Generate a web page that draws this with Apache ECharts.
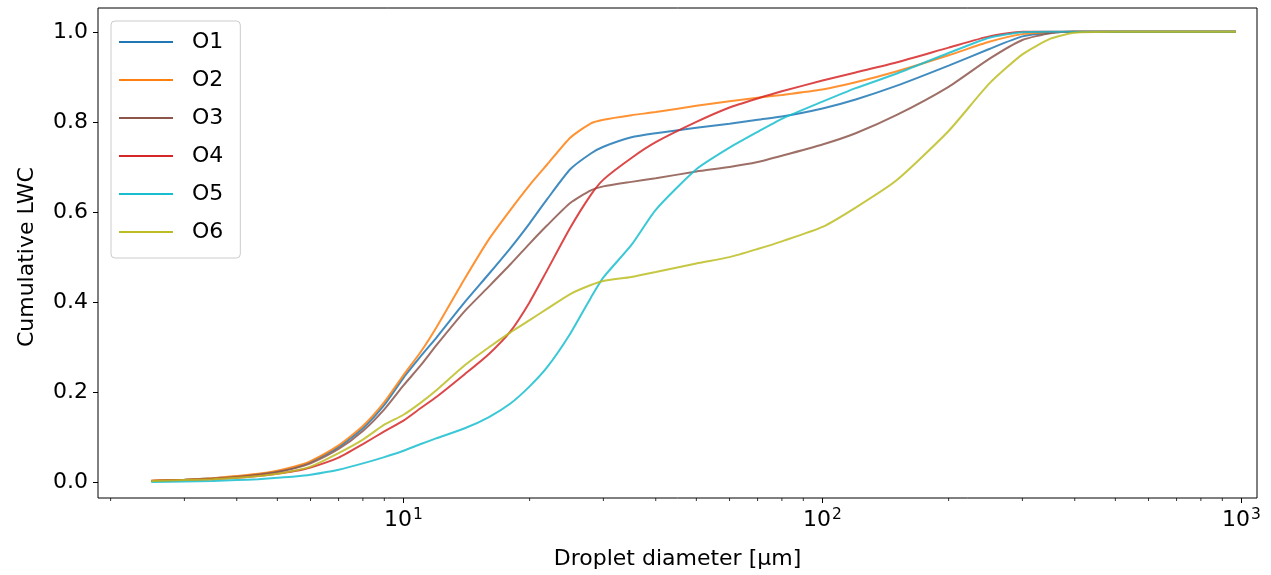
<!DOCTYPE html>
<html>
<head>
<meta charset="utf-8">
<script src="https://cdn.jsdelivr.net/npm/echarts@6/dist/echarts.min.js"></script>
<style>
  html, body { margin: 0; padding: 0; background: #fff; }
  #chart { width: 1271px; height: 575px; }
</style>
</head>
<body>
<div id="chart"></div>
<script>
// Droplet diameters [µm] shared by all cumulative curves
const diameters = [2.5, 3, 3.5, 4, 4.5, 5, 5.5, 6, 7, 8, 9, 10, 11, 12, 14, 16, 18, 20, 22, 25, 28, 30,
  35, 40, 50, 60, 70, 80, 100, 120, 150, 200, 250, 300, 350, 400, 500, 700, 970];

// Cumulative liquid water content per case
const O1 = [0.003, 0.006, 0.009, 0.013, 0.018, 0.024, 0.033, 0.045, 0.078, 0.12, 0.172, 0.232,
  0.28, 0.322, 0.40, 0.463, 0.52, 0.575, 0.628, 0.695, 0.73, 0.745, 0.766, 0.775,
  0.787, 0.796, 0.805, 0.812, 0.83, 0.85, 0.88, 0.925, 0.962, 0.99, 0.998, 1, 1, 1, 1];
const O2 = [0.004, 0.006, 0.009, 0.014, 0.019, 0.026, 0.035, 0.047, 0.082, 0.125, 0.178, 0.238,
  0.29, 0.345, 0.452, 0.54, 0.605, 0.66, 0.705, 0.765, 0.797, 0.805, 0.815, 0.822,
  0.836, 0.846, 0.854, 0.86, 0.872, 0.888, 0.912, 0.948, 0.978, 0.995, 0.999, 1, 1, 1, 1];
const O3 = [0.003, 0.005, 0.008, 0.012, 0.017, 0.023, 0.031, 0.042, 0.074, 0.114, 0.162, 0.215,
  0.26, 0.305, 0.38, 0.435, 0.484, 0.53, 0.57, 0.62, 0.648, 0.657, 0.667, 0.675,
  0.69, 0.7, 0.711, 0.725, 0.75, 0.775, 0.815, 0.878, 0.94, 0.982, 0.997, 1, 1, 1, 1];
const O4 = [0.003, 0.005, 0.007, 0.01, 0.014, 0.019, 0.025, 0.033, 0.055, 0.085, 0.113, 0.137,
  0.165, 0.19, 0.24, 0.285, 0.335, 0.4, 0.47, 0.565, 0.638, 0.672, 0.72, 0.755,
  0.8, 0.832, 0.852, 0.868, 0.892, 0.91, 0.932, 0.965, 0.99, 1, 1, 1, 1, 1, 1];
const O5 = [0.001, 0.002, 0.003, 0.005, 0.007, 0.01, 0.013, 0.017, 0.028, 0.042, 0.056, 0.07,
  0.085, 0.098, 0.12, 0.145, 0.175, 0.213, 0.255, 0.33, 0.41, 0.455, 0.527, 0.605,
  0.695, 0.743, 0.778, 0.807, 0.845, 0.875, 0.907, 0.953, 0.987, 0.999, 1, 1, 1, 1, 1];
const O6 = [0.003, 0.005, 0.007, 0.01, 0.014, 0.019, 0.026, 0.035, 0.065, 0.095, 0.128, 0.15,
  0.177, 0.205, 0.26, 0.30, 0.333, 0.36, 0.385, 0.418, 0.438, 0.447, 0.456, 0.467,
  0.486, 0.5, 0.518, 0.535, 0.567, 0.61, 0.67, 0.78, 0.885, 0.95, 0.985, 0.998, 1, 1, 1];

const seriesNames = ['O1', 'O2', 'O3', 'O4', 'O5', 'O6'];
const seriesValues = [O1, O2, O3, O4, O5, O6];
const colors = ['#1f77b4', '#ff7f0e', '#8c564b', '#d62728', '#17becf', '#bcbd22'];

// Tick labels of the LWC axis
const yTicks = [0.0, 0.2, 0.4, 0.6, 0.8, 1.0];

// Minor tick positions of the logarithmic diameter axis
const minorTicks = [];
[1, 10, 100].forEach(function (dec) {
  for (let k = 2; k <= 9; k++) minorTicks.push(k * dec);
});

const FONT = 'DejaVu Sans';
const X_MIN = 1.866, X_MAX = 1089;
// outer frame spans a padded range; the inner grid spans exactly 0..1
const FRAME_Y_MIN = -0.047, FRAME_Y_MAX = 1.053;
const FRAME_TOP = 8, FRAME_BOTTOM = 71.5;
const PLOT_H = 575 - FRAME_TOP - FRAME_BOTTOM;
const pxPerUnit = PLOT_H / (FRAME_Y_MAX - FRAME_Y_MIN);
const INNER_TOP = FRAME_TOP + (FRAME_Y_MAX - 1) * pxPerUnit;
const INNER_BOTTOM = FRAME_BOTTOM + (0 - FRAME_Y_MIN) * pxPerUnit;

const chart = echarts.init(document.getElementById('chart'), null, { renderer: 'canvas' });

const lineSeries = seriesNames.map(function (name, i) {
  return {
    name: name,
    type: 'line',
    xAxisIndex: 1,
    yAxisIndex: 1,
    showSymbol: false,
    smooth: 0.2,
    clip: false,
    color: colors[i],
    lineStyle: { width: 2, color: colors[i], opacity: 0.85 },
    z: 3,
    data: diameters.map(function (d, j) { return [d, seriesValues[i][j]]; })
  };
});

// Short minor tick marks below the x axis line
const minorTickSeries = {
  type: 'custom',
  xAxisIndex: 0,
  yAxisIndex: 0,
  silent: true,
  z: 1,
  data: minorTicks.filter(function (v) { return v > X_MIN && v < X_MAX; }).map(function (v) { return [v, 0]; }),
  renderItem: function (params, api) {
    const x = api.coord([api.value(0), 0])[0];
    const yb = params.coordSys.y + params.coordSys.height;
    return {
      type: 'line',
      shape: { x1: x, y1: yb, x2: x, y2: yb + 3 },
      style: { stroke: '#000', lineWidth: 0.8 }
    };
  }
};

chart.setOption({
  animation: false,
  backgroundColor: '#ffffff',
  grid: [
    {
      left: 98, right: 14, top: FRAME_TOP, bottom: FRAME_BOTTOM,
      show: true, borderColor: '#000', borderWidth: 1, backgroundColor: 'transparent'
    },
    {
      left: 98, right: 14, top: INNER_TOP, bottom: INNER_BOTTOM,
      show: false
    }
  ],
  legend: {
    orient: 'vertical',
    left: 111, top: 21,
    padding: [8, 17, 13, 8],
    itemGap: 12,
    itemWidth: 54,
    itemHeight: 2,
    icon: 'rect',
    backgroundColor: 'rgba(255,255,255,0.8)',
    borderColor: '#cccccc',
    borderWidth: 1,
    borderRadius: 4,
    textStyle: { fontFamily: FONT, fontSize: 22, color: '#000', lineHeight: 26, padding: [0, 0, 0, 14] },
    data: seriesNames
  },
  xAxis: [
    {
      gridIndex: 0,
      type: 'log',
      logBase: 10,
      min: X_MIN,
      max: X_MAX,
      name: 'Droplet diameter [µm]',
      nameLocation: 'middle',
      nameGap: 50,
      nameTextStyle: { fontFamily: FONT, fontSize: 22, color: '#000' },
      axisLine: { show: false, onZero: false },
      axisTick: { show: true, length: 5, lineStyle: { color: '#000', width: 1 } },
      splitLine: { show: false },
      axisLabel: {
        showMinLabel: false,
        showMaxLabel: false,
        margin: 9,
        formatter: function (v) {
          const e = Math.round(Math.log10(v));
          return '{b|10}{s|' + e + '}';
        },
        rich: {
          b: { fontFamily: FONT, fontSize: 22, color: '#000' },
          s: { fontFamily: FONT, fontSize: 15.5, color: '#000', verticalAlign: 'top', padding: [0, 0, 10, 1] }
        }
      }
    },
    {
      gridIndex: 1,
      type: 'log',
      logBase: 10,
      min: X_MIN,
      max: X_MAX,
      show: false
    }
  ],
  yAxis: [
    {
      gridIndex: 0,
      type: 'value',
      min: FRAME_Y_MIN,
      max: FRAME_Y_MAX,
      show: false
    },
    {
      gridIndex: 1,
      type: 'value',
      min: yTicks[0],
      max: yTicks[yTicks.length - 1],
      interval: 0.2,
      name: 'Cumulative LWC',
      nameLocation: 'middle',
      nameGap: 60,
      nameTextStyle: { fontFamily: FONT, fontSize: 22, color: '#000' },
      axisLine: { show: false },
      axisTick: { show: true, length: 5, lineStyle: { color: '#000', width: 1 } },
      splitLine: { show: false },
      axisLabel: {
        margin: 10,
        fontFamily: FONT, fontSize: 22, color: '#000',
        formatter: function (v) { return v.toFixed(1); }
      }
    }
  ],
  series: lineSeries.concat([minorTickSeries])
});
</script>
</body>
</html>
